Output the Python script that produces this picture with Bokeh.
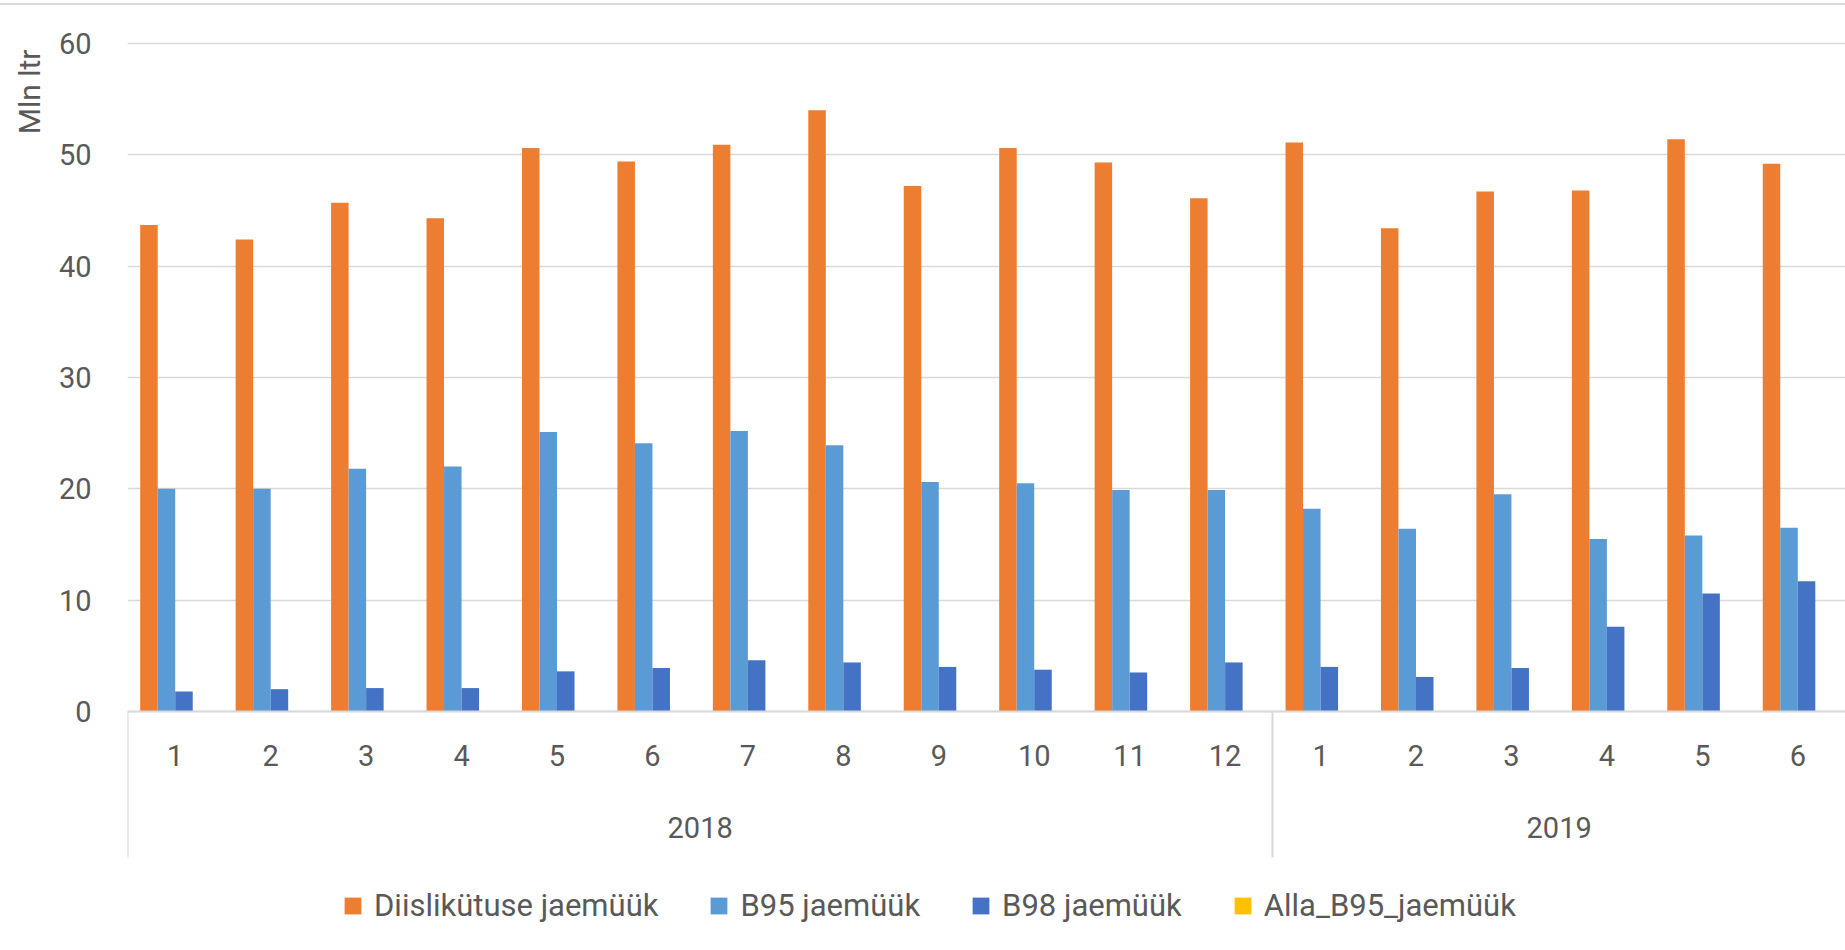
import math
from bokeh.plotting import figure
from bokeh.models import (Range1d, FixedTicker, LinearAxis, Legend, LegendItem,
                          Title)
from bokeh.embed import file_html
from bokeh.resources import INLINE

# ---------------- data ----------------
months = ["1", "2", "3", "4", "5", "6", "7", "8", "9", "10", "11", "12",
          "1", "2", "3", "4", "5", "6"]
years = ["2018", "2019"]
year_counts = [12, 6]

diesel = [43.7, 42.4, 45.7, 44.3, 50.6, 49.4, 50.9, 54.0, 47.2, 50.6, 49.3, 46.1,
          51.1, 43.4, 46.7, 46.8, 51.4, 49.2]
b95 = [20.0, 20.0, 21.8, 22.0, 25.1, 24.1, 25.2, 23.9, 20.6, 20.5, 19.9, 19.9,
       18.2, 16.4, 19.5, 15.5, 15.8, 16.5]
b98 = [1.8, 2.0, 2.1, 2.1, 3.6, 3.9, 4.6, 4.4, 4.0, 3.75, 3.5, 4.4,
       4.0, 3.1, 3.9, 7.6, 10.6, 11.7]
alla_b95 = [0.0, 0.0, 0.0, 0.0, 0.0, 0.0, 0.0, 0.0, 0.0, 0.0, 0.0, 0.0,
            0.0, 0.0, 0.0, 0.0, 0.0, 0.0]

series_names = ["Diislikütuse jaemüük", "B95 jaemüük", "B98 jaemüük", "Alla_B95_jaemüük"]
series_values = [diesel, b95, b98, alla_b95]
colors = ["#ED7D31", "#5B9BD5", "#4472C4", "#FFC000"]
y_ticks = [0, 10, 20, 30, 40, 50, 60]
y_title = "Mln ltr"

# ---------------- figure ----------------
TXT = "#595959"
GRID = "#d9d9d9"
FONT = "Roboto"

n = len(months)
PX_PER_UNIT = 11.133
FRAME_H = 935
Y_TOP = 63.41
p = figure(frame_width=1718, frame_height=FRAME_H,
           x_range=Range1d(-0.5, n - 0.5),
           y_range=Range1d(Y_TOP - FRAME_H / PX_PER_UNIT, Y_TOP),
           output_backend="svg", toolbar_location=None,
           min_border_left=127, min_border_right=0,
           min_border_top=0, min_border_bottom=0)
p.outline_line_color = None
p.background_fill_color = "white"
p.border_fill_color = "white"
p.styles = {"margin-top": "3px", "border-top": "2px solid #d9d9d9"}

bw = 0.1835
offsets = [-1.5 * bw, -0.5 * bw, 0.5 * bw, 1.5 * bw]
renderers = []
for vals, col, off in zip(series_values, colors, offsets):
    xs = [i + off for i in range(n)]
    r = p.vbar(x=xs, top=vals, width=bw, bottom=0, fill_color=col,
               line_color=None)
    renderers.append(r)

# grid
p.xgrid.visible = False
p.ygrid.ticker = FixedTicker(ticks=y_ticks)
p.ygrid.grid_line_color = GRID
p.ygrid.grid_line_width = 1.5

# y axis
p.yaxis.ticker = FixedTicker(ticks=y_ticks)
p.yaxis.axis_line_color = None
p.yaxis.major_tick_line_color = None
p.yaxis.minor_tick_line_color = None
p.yaxis.major_label_standoff = 30
p.yaxis.major_label_text_font = FONT
p.yaxis.major_label_text_font_size = "29px"
p.yaxis.major_label_text_color = TXT

# y axis title (near the top, as in the original)
p.add_layout(Title(text=y_title, align="right", offset=44, text_font=FONT,
                   text_font_size="30px", text_font_style="normal",
                   text_color=TXT, standoff=18), "left")

# month axis at y = 0
xa = p.xaxis[0]
xa.fixed_location = 0
xa.ticker = FixedTicker(ticks=list(range(n)))
xa.major_label_overrides = {i: months[i] for i in range(n)}
xa.axis_line_color = GRID
xa.axis_line_width = 2
xa.major_tick_line_color = None
xa.minor_tick_line_color = None
xa.major_tick_out = 0
xa.minor_tick_out = 0
xa.major_label_standoff = 34
xa.major_label_text_font = FONT
xa.major_label_text_font_size = "29px"
xa.major_label_text_color = TXT

# year axis
year_pos = []
start = 0
for c in year_counts:
    year_pos.append(start + (c - 1) / 2)
    start += c
ya = LinearAxis(ticker=FixedTicker(ticks=year_pos), fixed_location=0,
                major_label_overrides={pos: y for pos, y in zip(year_pos, years)},
                axis_line_color=None, major_tick_line_color=None,
                minor_tick_line_color=None, major_tick_out=0, minor_tick_out=0,
                major_label_standoff=106,
                major_label_text_font=FONT, major_label_text_font_size="29px",
                major_label_text_color=TXT)
p.add_layout(ya, "below")

# group separators (left edge and between years)
seps = [-0.5]
start = 0
for c in year_counts[:-1]:
    start += c
    seps.append(start - 0.5)
sa = LinearAxis(ticker=FixedTicker(ticks=seps), fixed_location=0,
                major_label_overrides={s: "" for s in seps},
                axis_line_color=None, major_tick_line_color=GRID,
                major_tick_line_width=2, major_tick_in=0, major_tick_out=146,
                minor_tick_line_color=None, major_label_standoff=0,
                major_label_text_font_size="0px")
p.add_layout(sa, "below")

# legend (inside the frame, below the category axis)
legend = Legend(items=[LegendItem(label=nm, renderers=[r])
                       for nm, r in zip(series_names, renderers)],
                orientation="horizontal", location=(215, 16), margin=0,
                padding=0, spacing=50, glyph_width=21, glyph_height=21,
                label_standoff=11, label_text_font=FONT,
                label_text_font_size="31px", label_text_color=TXT,
                border_line_color=None, background_fill_alpha=0)
p.add_layout(legend, "center")

open("out.html", "w").write(file_html(p, INLINE))
